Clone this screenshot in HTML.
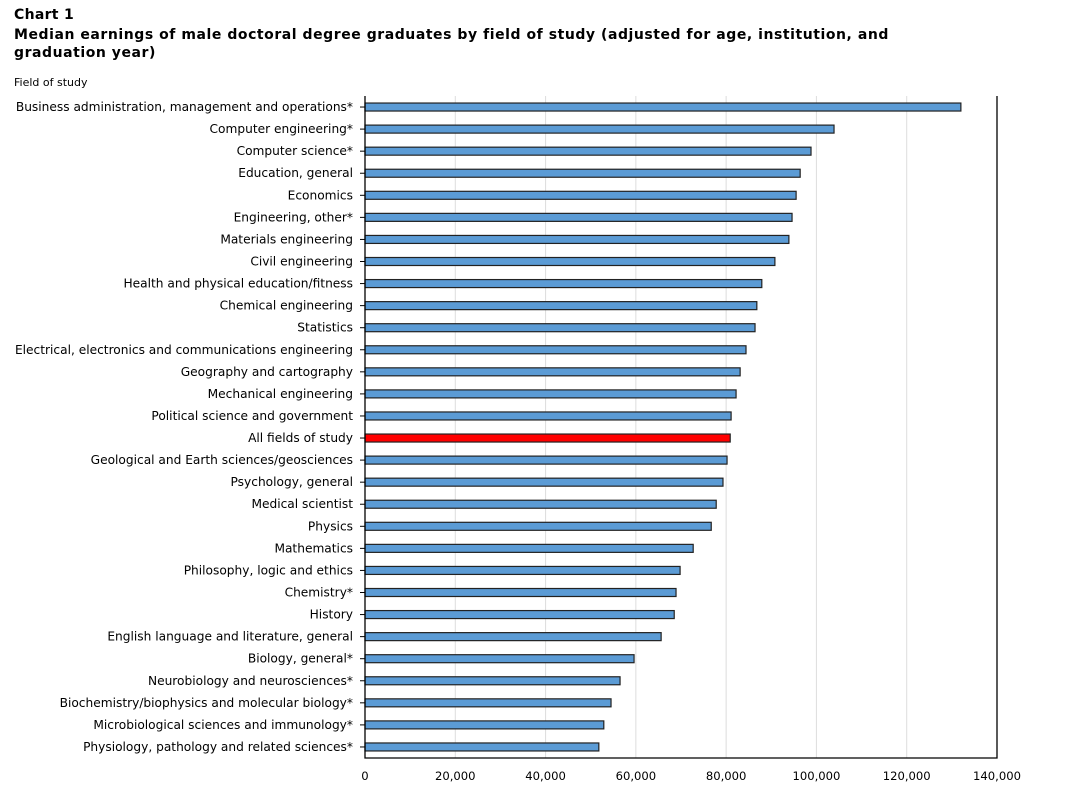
<!DOCTYPE html>
<html><head><meta charset="utf-8"><style>
body{margin:0;background:#fff;font-family:"DejaVu Sans","Liberation Sans",sans-serif;}
.t{position:absolute;left:14px;font-weight:bold;font-size:14px;color:#000;line-height:18px;letter-spacing:0.55px;white-space:nowrap}
</style></head><body>
<div style="position:relative;width:1080px;height:795px;overflow:hidden">
<div class="t" style="top:6px;letter-spacing:0.3px">Chart 1</div>
<div class="t" style="top:26px">Median earnings of male doctoral degree graduates by field of study (adjusted for age, institution, and<br>graduation year)</div>
<div style="position:absolute;left:14px;top:76px;font-size:11px">Field of study</div>
<svg id="c" width="1080" height="795" style="position:absolute;left:0;top:0"></svg>
</div>
<script>
const categories=["Business administration, management and operations*","Computer engineering*","Computer science*","Education, general","Economics","Engineering, other*","Materials engineering","Civil engineering","Health and physical education/fitness","Chemical engineering","Statistics","Electrical, electronics and communications engineering","Geography and cartography","Mechanical engineering","Political science and government","All fields of study","Geological and Earth sciences/geosciences","Psychology, general","Medical scientist","Physics","Mathematics","Philosophy, logic and ethics","Chemistry*","History","English language and literature, general","Biology, general*","Neurobiology and neurosciences*","Biochemistry/biophysics and molecular biology*","Microbiological sciences and immunology*","Physiology, pathology and related sciences*"];
const values=[132000,103900,98800,96400,95500,94600,93900,90800,87900,86800,86400,84400,83100,82200,81100,80900,80200,79300,77800,76700,72700,69800,68900,68500,65600,59600,56500,54500,52900,51800];
const highlight="All fields of study";
const ticks=[0,20000,40000,60000,80000,100000,120000,140000];
const svg=document.getElementById('c');const NS='http://www.w3.org/2000/svg';
const x0=365,x1=997,yTop=96,yBot=758,xMax=140000;
const xs=v=>x0+(v/xMax)*(x1-x0);
const step=(yBot-yTop)/categories.length;
const ys=i=>yTop+step*(i+0.5);
const FF='DejaVu Sans, Liberation Sans, sans-serif';
function mk(t,a){const e=document.createElementNS(NS,t);for(const k in a)e.setAttribute(k,a[k]);svg.appendChild(e);return e;}
ticks.forEach(t=>{
 if(t>0){const g=mk('line',{x1:xs(t),x2:xs(t),y1:yTop,y2:yBot,stroke:'#dddddd','stroke-width':1});
 
 }
 const l=mk('text',{x:xs(t),y:yBot+22,'text-anchor':'middle','font-size':11.6,'font-family':FF,fill:'#000'});
 l.textContent=t.toLocaleString('en-US');
 
 
});
categories.forEach((c,i)=>{
 const y=ys(i);
 const b=mk('rect',{x:x0,y:y-4,width:xs(values[i])-x0,height:8,fill:c===highlight?'#ff0000':'#5b9bd5',stroke:'#222','stroke-width':1.2});
 
 
 const tk=mk('line',{x1:x0-5,x2:x0,y1:y,y2:y,stroke:'#000'});
 
 
 const l=mk('text',{x:x0-12,y:y+4,'text-anchor':'end','font-size':12.2,'font-family':FF,fill:'#000'});
 l.textContent=c;
 
 
});
const ax=mk('path',{d:`M${x0} ${yTop}V${yBot}H${x1}V${yTop}`,fill:'none',stroke:'#000','stroke-width':1.3});


</script>
</body></html>
